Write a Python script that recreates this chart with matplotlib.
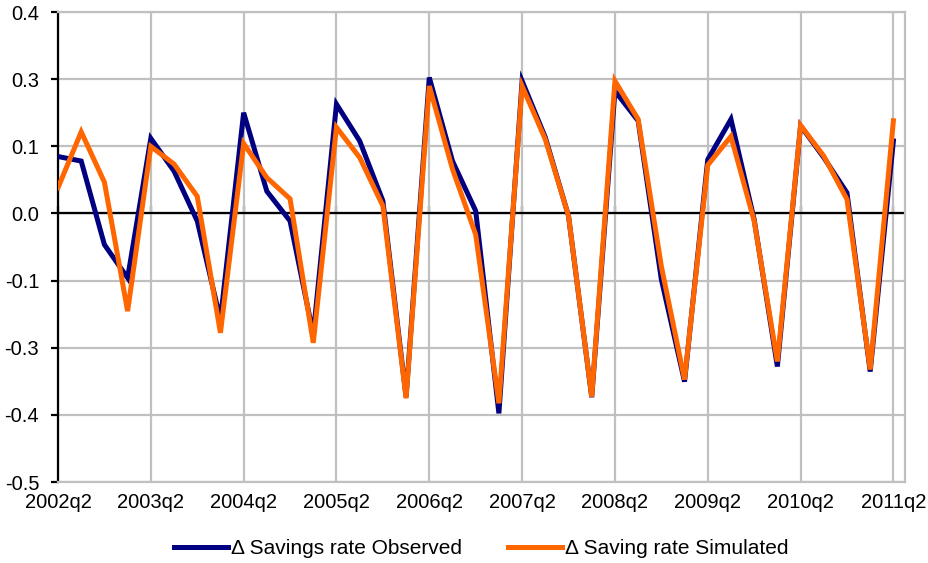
import numpy as np
import matplotlib
matplotlib.use("Agg")
import matplotlib.pyplot as plt

plt.rcParams['font.family'] = ['Liberation Sans', 'DejaVu Sans']

# quarters 2002q2 .. 2011q2
quarters = [f"{y}q{q}" for y in range(2002, 2012) for q in (1, 2, 3, 4)][1:38]
year_labels = [f"{y}q2" for y in range(2002, 2012)]

observed = [0.113, 0.104, -0.062, -0.128, 0.149, 0.084, -0.015, -0.211,
            0.200, 0.044, -0.015, -0.240, 0.217, 0.144, 0.025, -0.364,
            0.270, 0.104, 0.005, -0.397, 0.263, 0.151, -0.005, -0.365,
            0.243, 0.184, -0.131, -0.334, 0.107, 0.187, -0.012, -0.304,
            0.174, 0.111, 0.041, -0.314, 0.144]
simulated = [0.051, 0.162, 0.062, -0.194, 0.133, 0.098, 0.034, -0.237,
             0.139, 0.071, 0.029, -0.257, 0.171, 0.111, 0.015, -0.367,
             0.253, 0.088, -0.042, -0.377, 0.253, 0.147, -0.005, -0.364,
             0.263, 0.187, -0.105, -0.330, 0.096, 0.153, -0.015, -0.294,
             0.175, 0.114, 0.028, -0.310, 0.184]

x = np.arange(len(quarters))

fig = plt.figure(figsize=(9.29, 5.63), dpi=100)
ax = fig.add_axes([58/929, 1-482/563, (905-58)/929, (482-12)/563])

grid_c = '#c0c0c0'
ax.plot(x, observed, color='#000080', lw=3.6, solid_joinstyle='miter',
        label='Δ Savings rate Observed', zorder=3)
ax.plot(x, simulated, color='#ff6600', lw=3.6, solid_joinstyle='miter',
        label='Δ Saving rate Simulated', zorder=4)

# Excel-style y axis: 0.4 down in steps of 0.4/3, one decimal labels
step = 0.4 / 3
yticks = 0.4 - step * np.arange(8)
ax.set_ylim(yticks[-1], 0.4)
ax.set_yticks(yticks)
ax.set_yticklabels([f"{v:.1f}" if abs(v) > 1e-9 else "0.0" for v in yticks])

year_pos = [quarters.index(l) for l in year_labels]
ax.set_xlim(0, 36.5)
ax.set_xticks(year_pos)
ax.set_xticklabels(year_labels)

ax.grid(True, color=grid_c, lw=1.6)
ax.set_axisbelow(True)
ax.axhline(0, color='black', lw=1.6, zorder=2)

for s in ('top', 'right', 'bottom'):
    ax.spines[s].set_color(grid_c)
    ax.spines[s].set_linewidth(1.6)
ax.spines['left'].set_color('black')
ax.spines['left'].set_linewidth(1.6)

ax.tick_params(axis='y', direction='out', length=5, width=1.6, labelsize=14.5, pad=8.5)
ax.tick_params(axis='x', length=0, labelsize=14.5, pad=8)

# tick marks on the zero line
zero_loc = (0 - yticks[-1]) / (0.4 - yticks[-1])
sec = ax.secondary_xaxis(zero_loc)
sec.set_xticks(year_pos)
sec.set_xticklabels([])
sec.tick_params(direction='out', length=5, width=1.6)
sec.spines['bottom'].set_visible(False)

ax.legend(loc='center', bbox_to_anchor=(0.5, -(549-482)/470), ncol=2, frameon=False,
          fontsize=15, handlelength=2.6, handletextpad=0.15, columnspacing=2.2)

fig.savefig('out.png', dpi=100)
